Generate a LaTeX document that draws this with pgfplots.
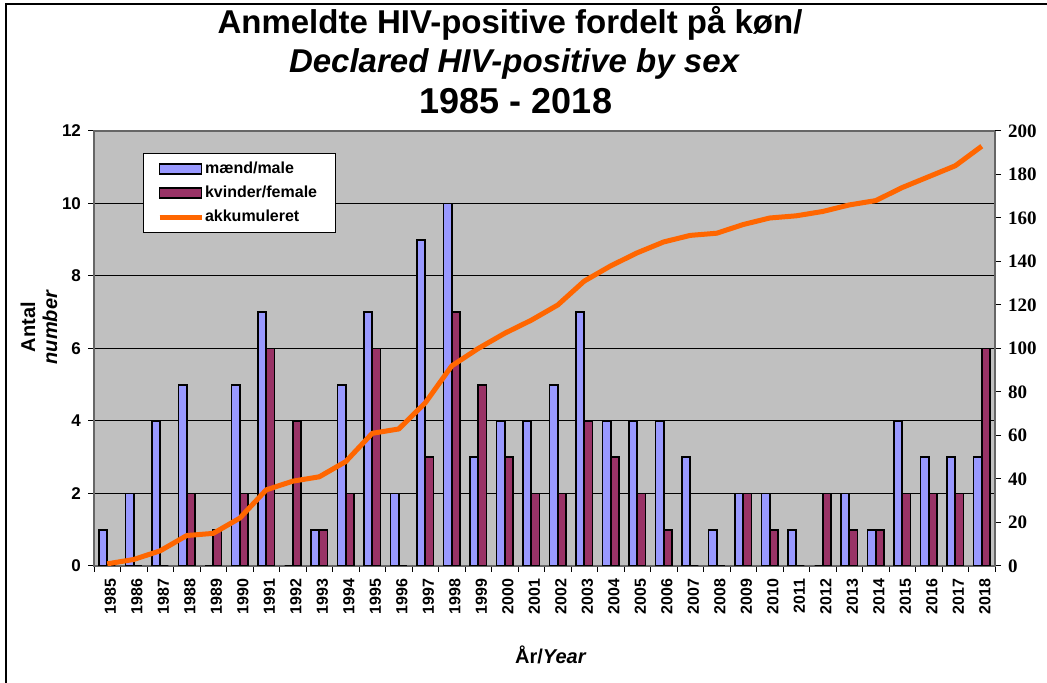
\documentclass[border=0pt]{standalone}
\usepackage{fontspec}
\setmainfont{Liberation Sans}
\newfontfamily\timesf{Liberation Serif}
\usepackage{pgfplots}
\usepackage{pgfplotstable}
\pgfplotsset{compat=1.18}
\definecolor{cbg}{HTML}{C0C0C0}
\definecolor{cmale}{HTML}{9999FF}
\definecolor{cfemale}{HTML}{993366}
\definecolor{cline}{HTML}{FF6600}
\newcommand{\ticklab}{\bfseries\fontsize{8.5}{9}\selectfont}

% i = category index, m = men, f = women, cum = accumulated
\pgfplotstableread{
i year m f cum
0 1985 1 0 1
1 1986 2 0 3
2 1987 4 0 7
3 1988 5 2 14
4 1989 0 1 15
5 1990 5 2 22
6 1991 7 6 35
7 1992 0 4 39
8 1993 1 1 41
9 1994 5 2 48
10 1995 7 6 61
11 1996 2 0 63
12 1997 9 3 75
13 1998 10 7 92
14 1999 3 5 100
15 2000 4 3 107
16 2001 4 2 113
17 2002 5 2 120
18 2003 7 4 131
19 2004 4 3 138
20 2005 4 2 144
21 2006 4 1 149
22 2007 3 0 152
23 2008 1 0 153
24 2009 2 2 157
25 2010 2 1 160
26 2011 1 0 161
27 2012 0 2 163
28 2013 2 1 166
29 2014 1 1 168
30 2015 4 2 174
31 2016 3 2 179
32 2017 3 2 184
33 2018 3 6 193
}\hivdata

\pgfplotsset{
  every axis/.append style={
    scale only axis, width=450.5pt, height=217.5pt,
    at={(47pt,58.5pt)}, anchor=south west,
    xmin=-0.5, xmax=33.5,
    tick align=outside,
    major tick length=3pt, minor tick length=3pt,
    tick style={black, line width=0.5pt},
    /pgf/number format/assume math mode=true,
  },
  barimg/.style={legend image code/.code={\draw[##1] (0pt,-2.5pt) rectangle (21pt,2.5pt);}},
  lineimg/.style={legend image code/.code={\draw[##1] (0pt,0pt) -- (21pt,0pt);}},
}

\begin{document}
\begin{tikzpicture}
\useasboundingbox (0,0) rectangle (523.5pt,341.5pt);
\draw[line width=1pt] (3pt,0) -- (3pt,339.5pt) -- (523.5pt,339.5pt);

\node[anchor=base, font=\bfseries\fontsize{16.5}{18}\selectfont] at (255pt,324.5pt) {Anmeldte HIV-positive fordelt på køn/};
\node[anchor=base, font=\bfseries\itshape\fontsize{16.5}{18}\selectfont] at (257pt,305pt) {Declared HIV-positive by sex};
\node[anchor=base, font=\bfseries\fontsize{18}{20}\selectfont] at (258pt,284.8pt) {1985 - 2018};

\begin{axis}[
  ymin=0, ymax=12,
  axis background/.style={fill=cbg},
  axis line style={black!60, line width=0.6pt},
  ytick={0,2,...,12}, ytick pos=left,
  yticklabel style={font=\ticklab},
  ymajorgrids, grid style={black, line width=0.5pt},
  xtick={0,...,33}, xtick pos=bottom,
  xticklabels from table={\hivdata}{year},
  major x tick style={draw=none},
  minor xtick={-0.5,0.5,...,33.5},
  xticklabel style={rotate=90, anchor=east, yshift=-1.5pt, font=\bfseries\fontsize{8}{9}\selectfont},
  ylabel={\textbf{Antal}\\\textbf{\textit{number}}},
  ylabel style={align=center, font=\fontsize{10}{11}\selectfont, at={(axis description cs:-0.061,0.549)}, anchor=center},
  xlabel={\textbf{År/\textit{Year}}},
  xlabel style={font=\fontsize{10}{12}\selectfont, at={(axis description cs:0.507,-0.205)}, anchor=center},
  legend cell align=left,
  legend style={at={(axis description cs:0.054,0.949)}, anchor=north west,
    draw=black, fill=white, font=\bfseries\fontsize{8}{10}\selectfont,
    inner xsep=7pt, inner ysep=2pt, row sep=0.8pt,
    /tikz/every odd column/.append style={column sep=-1.5pt}},
]
\addplot[ybar, bar width=0.31, bar shift=-0.155, fill=cmale, draw=black, line width=0.8pt, barimg]
  table[x=i, y=m] {\hivdata};
\addlegendentry{mænd/male}
\addplot[ybar, bar width=0.31, bar shift=0.155, fill=cfemale, draw=black, line width=0.8pt, barimg]
  table[x=i, y=f] {\hivdata};
\addlegendentry{kvinder/female}
\addlegendimage{cline, line width=2.5pt, lineimg}
\addlegendentry{akkumuleret}
\end{axis}

\begin{axis}[
  ymin=0, ymax=200,
  axis x line=none, axis y line*=right,
  axis line style={black!60, line width=0.6pt},
  ytick={0,20,...,200},
  yticklabel style={font=\timesf\bfseries\fontsize{9.5}{10}\selectfont},
]
\addplot[cline, line width=2.5pt, line join=round] table[x=i, y=cum] {\hivdata};
\end{axis}
\end{tikzpicture}
\end{document}
